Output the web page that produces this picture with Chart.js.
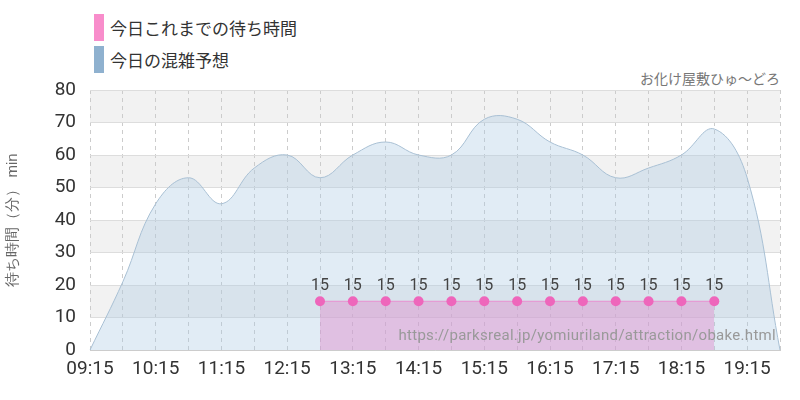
<!DOCTYPE html>
<html><head><meta charset="utf-8">
<script src="https://cdn.jsdelivr.net/npm/chart.js@4"></script>
<style>
body{margin:0;width:800px;height:400px;position:relative;font-family:Roboto,"Noto Sans CJK JP",sans-serif;background:#fff}
.lg{position:absolute;left:94px;font-size:17px;color:#333;display:flex;align-items:center}
.lg span{display:inline-block;width:10px;height:27px;margin-right:6px}
#ttl{position:absolute;right:20px;top:68px;font-size:14px;color:#777}
#url{position:absolute;right:24px;top:326px;font-size:15px;color:#999;letter-spacing:0.3px}
canvas{position:absolute;left:0;top:0}
</style></head><body>
<div class="lg" style="top:14px"><span style="background:#f88dcb"></span>今日これまでの待ち時間</div>
<div class="lg" style="top:46px"><span style="background:#8fb1cf"></span>今日の混雑予想</div>
<div id="ttl">お化け屋敷ひゅ〜どろ</div>
<canvas id="c" width="800" height="400"></canvas>
<div id="url">https://parksreal.jp/yomiuriland/attraction/obake.html</div>
<script>
/* ===== DATA ===== */
const times = ["09:15","09:45","10:15","10:45","11:15","11:45","12:15","12:45","13:15","13:45","14:15","14:45","15:15","15:45","16:15","16:45","17:15","17:45","18:15","18:45","19:15","19:45"];
const forecast = [0,21,45,53,45,56,60,53,60,64,60,60,71,71,64,60,53,56,60,68,53,0];
const actual = [null,null,null,null,null,null,null,15,15,15,15,15,15,15,15,15,15,15,15,15,null,null];

/* ===== PLUGINS ===== */
const bands = {
  id: "bands",
  beforeDraw(c) {
    const { ctx, chartArea: a, scales: { y } } = c;
    ctx.save();
    ctx.fillStyle = "#f2f2f2";
    for (let v = 10; v < 80; v += 20) {
      const t = y.getPixelForValue(v + 10), b = y.getPixelForValue(v);
      ctx.fillRect(a.left, t, a.right - a.left, b - t);
    }
    ctx.restore();
  }
};
const labels = {
  id: "labels",
  afterDatasetsDraw(c) {
    const { ctx } = c;
    const meta = c.getDatasetMeta(1);
    ctx.save();
    ctx.fillStyle = "#444";
    ctx.font = "16px Roboto";
    ctx.textAlign = "center";
    meta.data.forEach((p, i) => {
      if (actual[i] == null) return;
      ctx.fillText(actual[i], p.x, p.y - 11);
    });
    ctx.restore();
  }
};

/* ===== CHART ===== */
new Chart(document.getElementById("c"), {
  type: "line",
  data: {
    labels: times,
    datasets: [
      { data: forecast, fill: "origin", backgroundColor: "rgba(170,200,225,0.35)", borderColor: "#a9c0d4", borderWidth: 1, tension: 0.4, pointRadius: 0, order: 2 },
      { data: actual, fill: "origin", backgroundColor: "rgba(225,140,205,0.45)", borderColor: "#e98fcf", borderWidth: 1, pointRadius: 5, pointBackgroundColor: "#ee66bb", pointBorderWidth: 0, order: 1 }
    ]
  },
  options: {
    responsive: false, animation: false,
    layout: { padding: { top: 90, right: 20 } },
    plugins: { legend: { display: false }, tooltip: { enabled: false } },
    scales: {
      x: {
        offset: false,
        afterFit: s => { s.height = 50; },
        grid: { color: "#ccc", drawTicks: false },
        border: { display: true, color: "#ccc", dash: [4, 4] },
        ticks: { autoSkip: false, maxRotation: 0, padding: 8, color: "#333", font: { size: 19, family: "Roboto" },
          callback: (v, i) => i % 2 === 0 ? times[i] : "" }
      },
      y: {
        min: 0, max: 80,
        afterFit: s => { s.width = 90; },
        grid: { color: "#ddd", drawTicks: false },
        border: { display: false },
        ticks: { stepSize: 10, padding: 14, color: "#333", font: { size: 19, family: "Roboto" } },
        title: { display: true, text: "待ち時間（分） min", color: "#666", font: { size: 15 } }
      }
    }
  },
  plugins: [bands, labels]
});
</script>
</body></html>
